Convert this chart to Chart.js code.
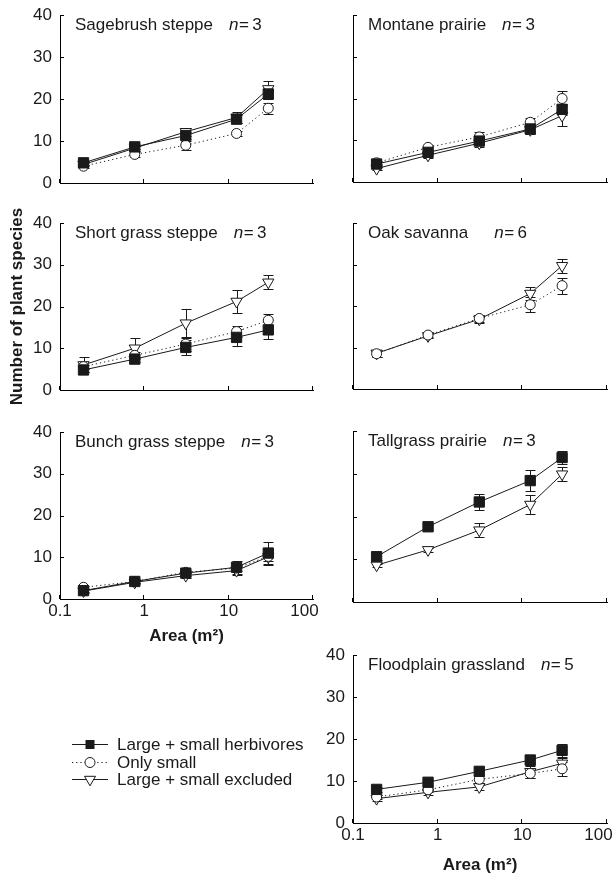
<!DOCTYPE html>
<html>
<head>
<meta charset="utf-8">
<script src="https://cdn.jsdelivr.net/npm/chart.js@4.4.0/dist/chart.umd.min.js"></script>
<style>
  body { margin: 0; background: #fff; }
  #page { position: relative; width: 616px; height: 874px; overflow: hidden;
          font-family: "Liberation Sans", Arial, sans-serif; color: #1a1a1a; }
  #page canvas { position: absolute; }
  #legend { position: absolute; left: 72px; top: 736px; font-size: 17px; }
  #legend div { height: 17.5px; line-height: 17.5px; display: flex; align-items: center; white-space: nowrap; }
  #legend svg { margin-right: 9px; }
</style>
</head>
<body>
<div id="page">
  <canvas id="c1"></canvas>
  <canvas id="c2"></canvas>
  <canvas id="c3"></canvas>
  <canvas id="c4"></canvas>
  <canvas id="c5"></canvas>
  <canvas id="c6"></canvas>
  <canvas id="c7"></canvas>
  <div id="legend"></div>
</div>
<script>
// Plot size (m2) and axis ticks
const areas = [0.19, 0.77, 3.1, 12.4, 29.5];
const xTicks = [0.1, 1, 10, 100];
const xTickLabels = ["0.1", "1", "10", "100"];
const seriesNames = ["Large + small herbivores", "Only small", "Large + small excluded"];

// Sagebrush steppe
const sageBoth = [4.8, 8.6, 11.3, 15.2, 21.2];
const sageBothErr = [0.4, 0.5, 0.9, 0.9, 1.3];
const sageSmall = [4.0, 6.8, 9.0, 11.8, 17.8];
const sageSmallErr = [0.4, 0.7, 1.1, 0.6, 1.3];
const sageExcl = [4.4, 8.3, 12.2, 15.6, 22.4];
const sageExclErr = [0.4, 0.6, 0.9, 1.2, 1.9];

// Montane prairie
const montBoth = [4.3, 7.1, 9.8, 12.7, 17.4];
const montBothErr = [0.4, 0.5, 0.8, 1.0, 1.4];
const montSmall = [4.6, 8.3, 10.8, 14.3, 20.0];
const montSmallErr = [0.4, 0.6, 1.1, 1.0, 1.9];
const montExcl = [3.2, 6.4, 9.3, 12.5, 15.9];
const montExclErr = [0.4, 0.6, 0.9, 1.1, 2.5];

// Short grass steppe
const shortBoth = [4.8, 7.4, 10.2, 12.6, 14.4];
const shortBothErr = [0.4, 0.6, 1.8, 2.0, 2.3];
const shortSmall = [5.6, 8.3, 11.0, 14.0, 16.7];
const shortSmallErr = [0.5, 0.8, 1.7, 1.4, 1.6];
const shortExcl = [6.0, 10.0, 16.0, 21.2, 25.8];
const shortExclErr = [1.8, 2.4, 3.5, 2.8, 1.7];

// Oak savanna (no large herbivore treatment)
const oakSmall = [8.5, 13.0, 17.0, 20.3, 24.9];
const oakSmallErr = [0.8, 0.5, 0.9, 1.8, 1.9];
const oakExcl = [8.6, 12.8, 16.8, 23.0, 29.7];
const oakExclErr = [0.8, 0.6, 1.0, 1.6, 1.7];

// Bunch grass steppe
const bunchBoth = [2.0, 4.2, 6.2, 7.6, 11.0];
const bunchBothErr = [0.4, 0.4, 0.6, 1.5, 2.6];
const bunchSmall = [2.8, 4.2, 6.4, 7.4, 10.2];
const bunchSmallErr = [0.3, 0.4, 0.5, 0.8, 1.0];
const bunchExcl = [1.9, 4.0, 5.6, 6.8, 10.1];
const bunchExclErr = [0.4, 0.5, 0.6, 1.0, 1.9];

// Tallgrass prairie (no "only small" treatment)
const tallBoth = [10.6, 17.6, 23.4, 28.4, 33.8];
const tallBothErr = [0.8, 0.5, 1.8, 2.5, 1.6];
const tallExcl = [8.6, 12.2, 16.8, 22.8, 29.9];
const tallExclErr = [0.4, 0.5, 1.7, 2.3, 1.7];

// Floodplain grassland
const floodBoth = [8.0, 9.7, 12.3, 15.0, 17.3];
const floodBothErr = [0.6, 0.6, 0.8, 1.3, 1.6];
const floodSmall = [6.2, 7.9, 10.4, 11.8, 12.9];
const floodSmallErr = [0.5, 0.6, 0.8, 1.0, 1.7];
const floodExcl = [5.8, 7.3, 8.6, 12.2, 14.2];
const floodExclErr = [0.5, 0.6, 0.7, 1.4, 1.3];

const FONT = '"Liberation Sans", Arial, sans-serif';
const INK = "#1a1a1a";
const PAD = 22;   // room above / below each plot for edge tick labels
const RPAD = 28;  // room right of each plot (must beat half the last x label)
Chart.defaults.font.family = FONT;
Chart.defaults.font.size = 17;
Chart.defaults.color = INK;

// panel layout: axisX = pixel of y axis, top = pixel of y=40, h = plot height
const panels = [
  { id: "c1", name: "Sagebrush steppe", eq: "=\u20093", gap: 16, axisX: 60, top: 15, w: 253, h: 168, yLab: true,
    vals: [sageBoth, sageSmall, sageExcl], errs: [sageBothErr, sageSmallErr, sageExclErr] },
  { id: "c2", name: "Montane prairie", eq: "=\u20093", gap: 16, axisX: 353, top: 15, w: 254, h: 167, yLab: false,
    vals: [montBoth, montSmall, montExcl], errs: [montBothErr, montSmallErr, montExclErr] },
  { id: "c3", name: "Short grass steppe", eq: "=\u20093", gap: 16, axisX: 60, top: 223, w: 253, h: 167, yLab: true, yTitle: true,
    vals: [shortBoth, shortSmall, shortExcl], errs: [shortBothErr, shortSmallErr, shortExclErr] },
  { id: "c4", name: "Oak savanna", eq: "=\u20096", gap: 26, axisX: 353, top: 223, w: 254, h: 166, yLab: false,
    vals: [null, oakSmall, oakExcl], errs: [null, oakSmallErr, oakExclErr] },
  { id: "c5", name: "Bunch grass steppe", eq: "=\u20093", gap: 16, axisX: 60, top: 432, w: 253, h: 167, yLab: true, xH: 50,
    vals: [bunchBoth, bunchSmall, bunchExcl], errs: [bunchBothErr, bunchSmallErr, bunchExclErr] },
  { id: "c6", name: "Tallgrass prairie", eq: "=\u20093", gap: 16, axisX: 353, top: 431, w: 254, h: 171, yLab: false,
    vals: [tallBoth, null, tallExcl], errs: [tallBothErr, null, tallExclErr] },
  { id: "c7", name: "Floodplain grassland", eq: "=\u20095", gap: 16, axisX: 353, top: 655, w: 254, h: 168, yLab: true, xH: 55,
    vals: [floodBoth, floodSmall, floodExcl], errs: [floodBothErr, floodSmallErr, floodExclErr] },
];

const styles = [
  { borderDash: [], pointStyle: "rect", pointRadius: 7.3, pointBackgroundColor: INK },
  { borderDash: [1.2, 3], pointStyle: "circle", pointRadius: 5, pointBackgroundColor: "#fff" },
  { borderDash: [], pointStyle: "triangle", pointRotation: 180, pointRadius: 6.5, pointBackgroundColor: "#fff" },
];

// error bars under the markers
const errorBars = {
  id: "errorBars",
  beforeDatasetsDraw(chart) {
    const { ctx, scales } = chart;
    ctx.save();
    ctx.strokeStyle = INK;
    ctx.lineWidth = 1;
    chart.data.datasets.forEach((ds, di) => {
      const meta = chart.getDatasetMeta(di);
      ds.errors.forEach((e, i) => {
        const x = Math.round(meta.data[i].x) + 0.5;
        const v = ds.data[i].y;
        const y1 = Math.round(scales.y.getPixelForValue(v + e)) + 0.5;
        const y2 = Math.round(scales.y.getPixelForValue(v - e)) + 0.5;
        ctx.beginPath();
        ctx.moveTo(x, y1); ctx.lineTo(x, y2);
        ctx.moveTo(x - 5, y1); ctx.lineTo(x + 5, y1);
        ctx.moveTo(x - 5, y2); ctx.lineTo(x + 5, y2);
        ctx.stroke();
      });
    });
    ctx.restore();
  },
};

// tick marks pointing into the plot
const inTicks = {
  id: "inTicks",
  afterDraw(chart) {
    const { ctx, chartArea, scales } = chart;
    ctx.save();
    ctx.strokeStyle = "#000";
    ctx.lineWidth = 1;
    ctx.beginPath();
    scales.x.ticks.forEach((t) => {
      const px = Math.round(scales.x.getPixelForValue(t.value)) - 0.5;
      ctx.moveTo(px, chartArea.bottom);
      ctx.lineTo(px, chartArea.bottom - 4);
    });
    scales.y.ticks.forEach((t) => {
      const py = Math.round(scales.y.getPixelForValue(t.value)) + 0.5;
      ctx.moveTo(chartArea.left, py);
      ctx.lineTo(chartArea.left + 4, py);
    });
    ctx.stroke();
    ctx.restore();
  },
};

// site name + italic n
const panelLabel = {
  id: "panelLabel",
  afterDraw(chart, args, opts) {
    const { ctx, chartArea } = chart;
    ctx.save();
    ctx.fillStyle = INK;
    ctx.textBaseline = "alphabetic";
    ctx.textAlign = "left";
    const y = chartArea.top + 15;
    let x = chartArea.left + 15;
    ctx.font = "17px " + FONT;
    ctx.fillText(opts.name, x, y);
    x += ctx.measureText(opts.name).width + opts.gap;
    ctx.font = "italic 17px " + FONT;
    ctx.fillText("n", x, y);
    x += ctx.measureText("n").width + 0.5;
    ctx.font = "17px " + FONT;
    ctx.fillText(opts.eq, x, y);
    ctx.restore();
  },
};

panels.forEach((p) => {
  const xLab = !!p.xH;
  const xH = p.xH || PAD;
  const canvas = document.getElementById(p.id);
  canvas.width = 60 + p.w + RPAD;
  canvas.height = PAD + p.h + xH;
  canvas.style.left = p.axisX - 60 + "px";
  canvas.style.top = p.top - PAD + "px";

  const datasets = [];
  p.vals.forEach((vals, si) => {
    if (!vals) return;
    datasets.push({
      label: seriesNames[si],
      data: areas.map((a, i) => ({ x: a, y: vals[i] })),
      errors: p.errs[si],
      showLine: true,
      borderColor: INK,
      borderWidth: 1,
      pointBorderColor: INK,
      pointBorderWidth: 1,
      tension: 0,
      ...styles[si],
    });
  });

  new Chart(canvas.getContext("2d"), {
    type: "scatter",
    data: { datasets },
    options: {
      responsive: false,
      animation: false,
      layout: { padding: { top: PAD, right: RPAD, bottom: 0, left: 0 } },
      plugins: {
        legend: { display: false },
        tooltip: { enabled: false },
        panelLabel: { name: p.name, eq: p.eq, gap: p.gap },
      },
      scales: {
        x: {
          type: "logarithmic",
          min: 0.1,
          max: 100,
          afterBuildTicks: (s) => { s.ticks = xTicks.map((v) => ({ value: v })); },
          afterFit: (s) => { s.height = xH; },
          // last label sits a little inside the axis end, as in the print
          ticks: { display: xLab, padding: 2, maxRotation: 0, autoSkip: false,
                   callback: (v, i) => (i === xTicks.length - 1 ? xTickLabels[i] + "\u2003" : xTickLabels[i]) },
          grid: { display: false, drawTicks: false },
          border: { color: "#000", width: 1 },
          title: { display: xLab, text: "Area (m²)", font: { weight: "bold", size: 17 },
                   padding: { top: 0, bottom: 2 } },
        },
        y: {
          min: 0,
          max: 40,
          afterFit: (s) => { s.width = 60; },
          ticks: { display: p.yLab, stepSize: 10, padding: 8 },
          grid: { display: false, drawTicks: false },
          border: { color: "#000", width: 1 },
          title: { display: !!p.yTitle, text: "Number of plant species", font: { weight: "bold", size: 17 },
                   padding: { top: 7, bottom: 0 } },
        },
      },
    },
    plugins: [errorBars, inTicks, panelLabel],
  });
});

// legend: line sample with marker, then the name
const legendSamples = [
  '<line x1="0" y1="8.5" x2="36" y2="8.5" stroke="#1a1a1a"/><rect x="13.5" y="4" width="9" height="9" fill="#1a1a1a"/>',
  '<line x1="0" y1="8.5" x2="36" y2="8.5" stroke="#1a1a1a" stroke-dasharray="1.2 3"/><circle cx="18" cy="8.5" r="5" fill="#fff" stroke="#1a1a1a"/>',
  '<line x1="0" y1="8.5" x2="36" y2="8.5" stroke="#1a1a1a"/><polygon points="12.5,5.3 23.5,5.3 18,14.8" fill="#fff" stroke="#1a1a1a"/>',
];
const legend = document.getElementById("legend");
seriesNames.forEach((name, i) => {
  const row = document.createElement("div");
  row.innerHTML = '<svg width="36" height="17">' + legendSamples[i] + "</svg><span>" + name + "</span>";
  legend.appendChild(row);
});
</script>
</body>
</html>
